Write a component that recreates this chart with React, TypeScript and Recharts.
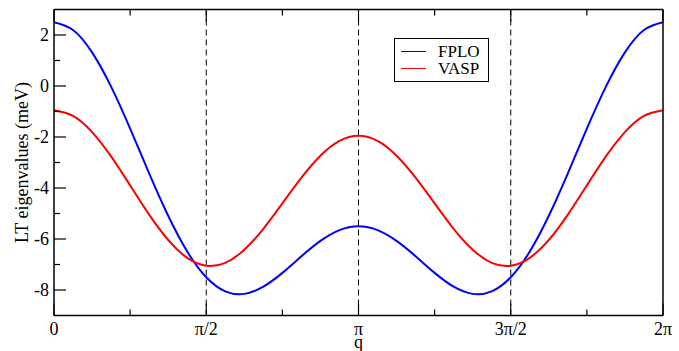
import React from 'react';
import {
  LineChart,
  Line,
  XAxis,
  YAxis,
  ReferenceLine,
  Legend,
} from 'recharts';

// q in units of pi
const q = [
  0, 0.0625, 0.125, 0.1875, 0.25, 0.3125, 0.375, 0.4375, 0.5, 0.5625, 0.625,
  0.6875, 0.75, 0.8125, 0.875, 0.9375, 1, 1.0625, 1.125, 1.1875, 1.25, 1.3125,
  1.375, 1.4375, 1.5, 1.5625, 1.625, 1.6875, 1.75, 1.8125, 1.875, 1.9375, 2,
];

const fplo = [
  2.5, 2.195, 1.317, -0.026, -1.672, -3.426, -5.09, -6.492, -7.5, -8.052, -8.152,
  -7.87, -7.328, -6.678, -6.075, -5.651, -5.5, -5.651, -6.075, -6.678, -7.328,
  -7.87, -8.152, -8.052, -7.5, -6.492, -5.09, -3.426, -1.672, -0.026, 1.317,
  2.195, 2.5,
];

const vasp = [
  -0.95, -1.173, -1.808, -2.762, -3.896, -5.044, -6.039, -6.739, -7.05, -6.935,
  -6.421, -5.6, -4.604, -3.594, -2.732, -2.153, -1.95, -2.153, -2.732, -3.594,
  -4.604, -5.6, -6.421, -6.935, -7.05, -6.739, -6.039, -5.044, -3.896, -2.762,
  -1.808, -1.173, -0.95,
];

const xTicks = [0, 0.25, 0.5, 0.75, 1, 1.25, 1.5, 1.75, 2];
const xTickLabels: Record<string, string> = {
  '0': '0',
  '0.5': 'π/2',
  '1': 'π',
  '1.5': '3π/2',
  '2': '2π',
};
const yTicks = [-8, -7, -6, -5, -4, -3, -2, -1, 0, 1, 2];
const dashedAt = [0.5, 1, 1.5];

const data = q.map((v, i) => ({ q: v, FPLO: fplo[i], VASP: vasp[i] }));

const FONT = 'Liberation Serif, Times New Roman, serif';
const MAJOR = 12;
const MINOR = 6;

function isMajorX(v: number) {
  return Number.isInteger(v * 2);
}

function BottomTick(props: any) {
  const { x, y, payload } = props;
  const major = isMajorX(payload.value);
  return (
    <g>
      <line x1={x} x2={x} y1={y} y2={y - (major ? MAJOR : MINOR)} stroke="#000" strokeWidth={1.2} />
      {major && (
        <text x={x} y={y + 19} textAnchor="middle" fontSize={18} fontFamily={FONT} fill="#000">
          {xTickLabels[String(payload.value)]}
        </text>
      )}
    </g>
  );
}

function TopTick(props: any) {
  const { x, y, payload } = props;
  const major = isMajorX(payload.value);
  return <line x1={x} x2={x} y1={y} y2={y + (major ? MAJOR : MINOR)} stroke="#000" strokeWidth={1.2} />;
}

function LeftTick(props: any) {
  const { x, y, payload } = props;
  const major = payload.value % 2 === 0;
  return (
    <g>
      <line x1={x} x2={x + (major ? MAJOR : MINOR)} y1={y} y2={y} stroke="#000" strokeWidth={1.2} />
      {major && (
        <text x={x - 5} y={y + 6} textAnchor="end" fontSize={18} fontFamily={FONT} fill="#000">
          {payload.value}
        </text>
      )}
    </g>
  );
}

function RightTick(props: any) {
  const { x, y, payload } = props;
  const major = payload.value % 2 === 0;
  return <line x1={x} x2={x - (major ? MAJOR : MINOR)} y1={y} y2={y} stroke="#000" strokeWidth={1.2} />;
}

function LegendBox() {
  const items = [
    { name: 'FPLO', color: '#0000ff' },
    { name: 'VASP', color: '#ff0000' },
  ];
  return (
    <div
      style={{
        border: '1px solid #000',
        padding: '4px 8px 4px 6px',
        background: '#fff',
        fontFamily: FONT,
        fontSize: 17,
        lineHeight: '17px',
      }}
    >
      {items.map((it) => (
        <div key={it.name} style={{ display: 'flex', alignItems: 'center' }}>
          <span style={{ display: 'inline-block', width: 25, height: 0, borderTop: `1px solid ${it.color}`, marginRight: 12 }} />
          <span>{it.name}</span>
        </div>
      ))}
    </div>
  );
}

export default function App() {
  return (
    <div style={{ position: 'absolute', left: 0, top: 0, background: '#fff', fontFamily: FONT }}>
      <LineChart width={679} height={351} data={data} margin={{ top: 0, right: 0, bottom: 0, left: 0 }}>
        <XAxis
          xAxisId="b"
          dataKey="q"
          type="number"
          domain={[0, 2]}
          ticks={xTicks}
          height={35.5}
          axisLine={{ stroke: '#000', strokeWidth: 1.5 }}
          tickLine={false}
          tickSize={0}
          tickMargin={0}
          tick={<BottomTick />}
          interval={0}
          label={(p: any) => {
            const vb = p.viewBox;
            return (
              <text x={vb.x + vb.width / 2} y={vb.y + 32} textAnchor="middle" fontSize={18} fontFamily={FONT} fill="#000">
                q
              </text>
            );
          }}
        />
        <XAxis
          xAxisId="t"
          dataKey="q"
          type="number"
          orientation="top"
          domain={[0, 2]}
          ticks={xTicks}
          height={9.5}
          axisLine={{ stroke: '#000', strokeWidth: 1.5 }}
          tickLine={false}
          tickSize={0}
          tickMargin={0}
          tick={<TopTick />}
          interval={0}
        />
        <YAxis
          yAxisId="l"
          type="number"
          domain={[-9, 3]}
          ticks={yTicks}
          width={54}
          axisLine={{ stroke: '#000', strokeWidth: 1.5 }}
          tickLine={false}
          tickSize={0}
          tickMargin={0}
          tick={<LeftTick />}
          interval={0}
          label={(p: any) => {
            const vb = p.viewBox;
            const cx = vb.x + 22;
            const cy = vb.y + vb.height / 2;
            return (
              <text x={cx} y={cy} transform={`rotate(-90 ${cx} ${cy})`} textAnchor="middle" dominantBaseline="central" fontSize={18} fontFamily={FONT} fill="#000">
                LT eigenvalues (meV)
              </text>
            );
          }}
        />
        <YAxis
          yAxisId="r"
          orientation="right"
          type="number"
          domain={[-9, 3]}
          ticks={yTicks}
          width={16}
          axisLine={{ stroke: '#000', strokeWidth: 1.5 }}
          tickLine={false}
          tickSize={0}
          tickMargin={0}
          tick={<RightTick />}
          interval={0}
        />
        {dashedAt.map((v) => (
          <ReferenceLine key={v} xAxisId="b" yAxisId="l" x={v} stroke="#000" strokeWidth={1} strokeDasharray="6 4" />
        ))}
        <Line
          xAxisId="b"
          yAxisId="l"
          type="natural"
          dataKey="FPLO"
          stroke="#0000ff"
          strokeWidth={2}
          dot={false}
          isAnimationActive={false}
        />
        <Line
          xAxisId="b"
          yAxisId="l"
          type="natural"
          dataKey="VASP"
          stroke="#ff0000"
          strokeWidth={2}
          dot={false}
          isAnimationActive={false}
        />
        <Legend
          layout="vertical"
          align="center"
          verticalAlign="middle"
          content={() => <LegendBox />}
          wrapperStyle={{ left: 394, top: 38, width: 'auto', bottom: 'auto', right: 'auto' }}
        />
      </LineChart>
    </div>
  );
}
